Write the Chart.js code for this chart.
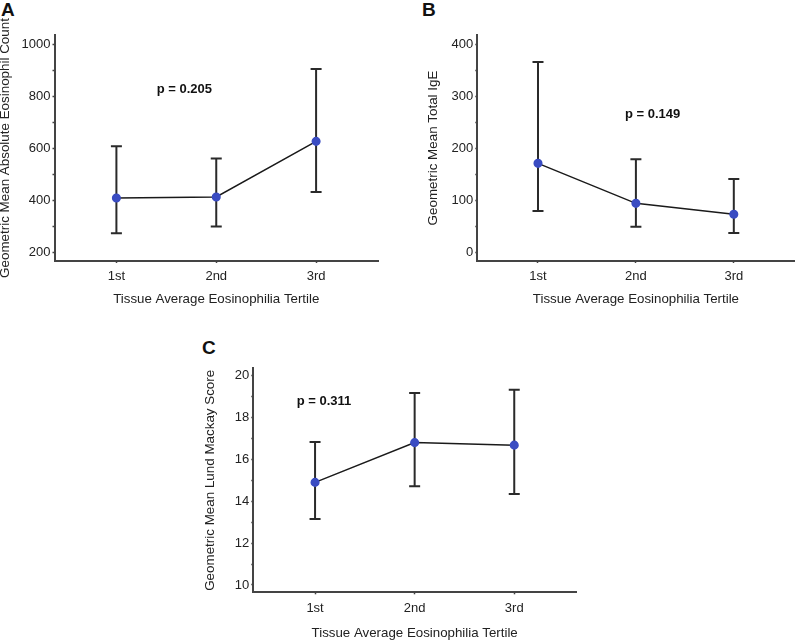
<!DOCTYPE html>
<html>
<head>
<meta charset="utf-8">
<script src="https://cdn.jsdelivr.net/npm/chart.js@4"></script>
<style>
  body { margin: 0; background: #fff; width: 800px; height: 641px; position: relative; overflow: hidden; font-family: "Liberation Sans", Arial, sans-serif; }
  canvas { position: absolute; }
  .letter { position: absolute; font-weight: bold; font-size: 19px; color: #111; line-height: 1; }
</style>
</head>
<body>
<div class="letter" style="left:1px;top:0px">A</div>
<div class="letter" style="left:422px;top:0px">B</div>
<div class="letter" style="left:202px;top:338px">C</div>
<canvas id="chartA" width="395" height="320" style="left:0;top:0"></canvas>
<canvas id="chartB" width="400" height="320" style="left:400px;top:0"></canvas>
<canvas id="chartC" width="420" height="321" style="left:180px;top:320px"></canvas>
<script>
const tertiles = ["1st", "2nd", "3rd"];

// A: absolute eosinophil count
const eosMean = [409, 413, 627];
const eosLow = [274, 300, 432];
const eosHigh = [608, 561, 905];
const eosTicks = [200, 400, 600, 800, 1000];

// B: total IgE
const igeMean = [171, 94, 73];
const igeLow = [79, 49, 37];
const igeHigh = [366, 179, 141];
const igeTicks = [0, 100, 200, 300, 400];

// C: Lund Mackay score
const lmsMean = [14.9, 16.8, 16.68];
const lmsLow = [13.15, 14.72, 14.34];
const lmsHigh = [16.83, 19.17, 19.33];
const lmsTicks = [10, 12, 14, 16, 18, 20];

const FONT = "'Liberation Sans', Arial, sans-serif";
const TEXT = "#222";
const AXIS = "#444";

const errorBars = {
  id: "errorBars",
  beforeDatasetsDraw(chart, args, opts) {
    const { ctx, scales: { x, y } } = chart;
    const cap = 5.5;
    ctx.save();
    ctx.strokeStyle = "#2a2a2a";
    ctx.lineWidth = 2;
    opts.low.forEach((lo, i) => {
      const px = x.getPixelForValue(i + 1);
      const top = y.getPixelForValue(opts.high[i]);
      const bot = y.getPixelForValue(lo);
      ctx.beginPath();
      ctx.moveTo(px, top); ctx.lineTo(px, bot);
      ctx.moveTo(px - cap, top); ctx.lineTo(px + cap, top);
      ctx.moveTo(px - cap, bot); ctx.lineTo(px + cap, bot);
      ctx.stroke();
    });
    ctx.restore();
  }
};

const pLabel = {
  id: "pLabel",
  afterDraw(chart, args, opts) {
    const { ctx, scales: { x, y } } = chart;
    ctx.save();
    ctx.font = "bold 13px " + FONT;
    ctx.fillStyle = "#111";
    ctx.textAlign = "center";
    ctx.textBaseline = "middle";
    ctx.fillText(opts.text, x.getPixelForValue(opts.x), y.getPixelForValue(opts.y));
    ctx.restore();
  }
};

function makePanel(id, cfg) {
  const tickSet = new Set(cfg.ticks);
  return new Chart(document.getElementById(id), {
    type: "line",
    data: {
      datasets: [{
        data: cfg.mean.map((v, i) => ({ x: i + 1, y: v })),
        borderColor: "#1a1a1a",
        borderWidth: 1.5,
        pointBackgroundColor: "#3a4cc2",
        pointBorderColor: "#3a4cc2",
        pointRadius: 3.8,
        tension: 0
      }]
    },
    plugins: [errorBars, pLabel],
    options: {
      responsive: false,
      animation: false,
      layout: { padding: { top: cfg.padTop, right: cfg.padRight, left: 0, bottom: 0 } },
      plugins: {
        legend: { display: false },
        tooltip: { enabled: false },
        errorBars: { low: cfg.low, high: cfg.high },
        pLabel: cfg.p
      },
      scales: {
        x: {
          type: "linear",
          min: 0.38,
          max: 3.62,
          afterBuildTicks: (axis) => { axis.ticks = tertiles.map((t, i) => ({ value: i + 1 })); },
          afterFit: (axis) => { axis.height = cfg.xHeight; },
          ticks: {
            callback: (v) => tertiles[v - 1] || "",
            color: TEXT,
            font: { family: FONT, size: 13 },
            padding: 6,
            maxRotation: 0
          },
          grid: { drawOnChartArea: false, drawTicks: true, tickLength: 2, color: AXIS, tickWidth: 1.5 },
          border: { display: true, color: AXIS, width: 2 },
          title: {
            display: true,
            text: "Tissue Average Eosinophilia Tertile",
            color: TEXT,
            font: { family: FONT, size: 13.3, lineHeight: 1 },
            padding: { top: 0, bottom: cfg.xTitlePad }
          }
        },
        y: {
          min: cfg.min,
          max: cfg.max,
          afterBuildTicks: (axis) => {
            const out = [];
            for (let v = cfg.ticks[0]; v <= cfg.ticks[cfg.ticks.length - 1] + 1e-9; v += cfg.minor) {
              out.push({ value: Math.round(v * 1000) / 1000 });
            }
            axis.ticks = out;
          },
          afterFit: (axis) => { axis.width = cfg.yWidth; },
          ticks: {
            callback: (v) => (tickSet.has(v) ? String(v) : ""),
            color: TEXT,
            font: { family: FONT, size: 13 },
            padding: 2,
            autoSkip: false
          },
          grid: { drawOnChartArea: false, drawTicks: true, tickLength: 2, color: AXIS, tickWidth: 1.5 },
          border: { display: true, color: AXIS, width: 2 },
          title: {
            display: true,
            text: cfg.yTitle,
            color: TEXT,
            font: { family: FONT, size: 13.4, lineHeight: 1 },
            padding: { top: cfg.yTitlePad, bottom: 0 }
          }
        }
      }
    }
  });
}

makePanel("chartA", {
  mean: eosMean, low: eosLow, high: eosHigh, ticks: eosTicks, minor: 100,
  min: 167, max: 1036,
  yTitle: "Geometric Mean Absolute Eosinophil Count",
  padTop: 35, padRight: 17, yWidth: 54.5, xHeight: 59, yTitlePad: -1.2, xTitlePad: 14.3,
  p: { text: "p = 0.205", x: 1.68, y: 828 }
});

makePanel("chartB", {
  mean: igeMean, low: igeLow, high: igeHigh, ticks: igeTicks, minor: 50,
  min: -17, max: 418,
  yTitle: "Geometric Mean Total IgE",
  padTop: 35, padRight: 0, yWidth: 77.3, xHeight: 59, yTitlePad: 26.3, xTitlePad: 14.3,
  p: { text: "p = 0.149", x: 2.17, y: 265 }
});

makePanel("chartC", {
  mean: lmsMean, low: lmsLow, high: lmsHigh, ticks: lmsTicks, minor: 1,
  min: 9.65, max: 20.35,
  yTitle: "Geometric Mean Lund Mackay Score",
  padTop: 48.3, padRight: 24, yWidth: 73.3, xHeight: 48.7, yTitlePad: 23.3, xTitlePad: 1.3,
  p: { text: "p = 0.311", x: 1.09, y: 18.76 }
});
</script>
</body>
</html>
